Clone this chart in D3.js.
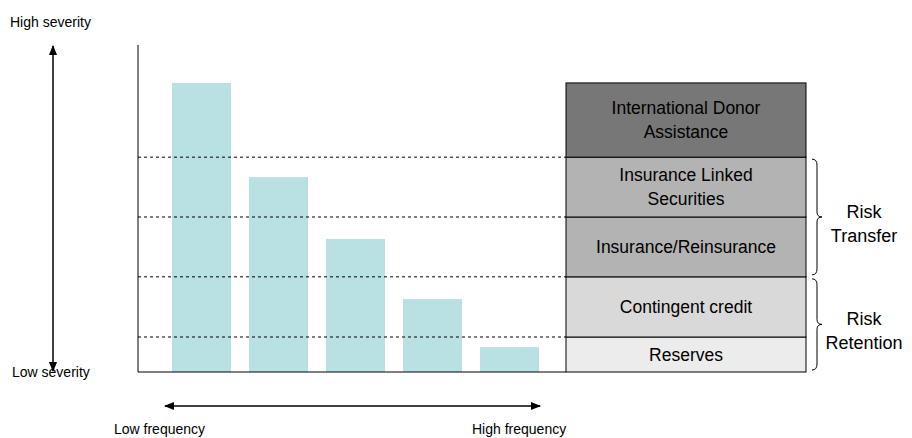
<!DOCTYPE html>
<html><head><meta charset="utf-8">
<script src="https://cdn.jsdelivr.net/npm/d3@7"></script>
<style>body{margin:0;background:#fff}svg{font-family:Arial,"Liberation Sans",sans-serif}</style>
</head><body><svg id="c" width="912" height="438"></svg>
<script>
const categories=["f1","f2","f3","f4","f5"];
const severity=[88.4,59.6,40.7,22.3,7.6];
const layerNames=[["Reserves"],["Contingent credit"],["Insurance/Reinsurance"],["Insurance Linked","Securities"],["International Donor","Assistance"]];
const layerBounds=[0,10.7,29.1,47.4,65.7,88.4];
const layerColors=["#ececec","#d9d9d9","#b3b3b3","#b3b3b3","#777777"];
const groups=[{name:["Risk","Transfer"],from:29.1,to:65.7},{name:["Risk","Retention"],from:0,to:29.1}];

const svg=d3.select("#c");
const y=d3.scaleLinear().domain([0,100]).range([372,45]);
const x=d3.scaleBand().domain(categories).range([163,548]).paddingInner(0.234).paddingOuter(0.117);

svg.append("defs").append("marker").attr("id","ah").attr("viewBox","0 0 10 10").attr("refX",9).attr("refY",5)
 .attr("markerWidth",7).attr("markerHeight",7).attr("orient","auto-start-reverse")
 .append("path").attr("d","M0,1L10,5L0,9z").attr("fill","#000");

svg.selectAll(".bar").data(severity).join("rect")
 .attr("x",(d,i)=>x(categories[i])).attr("width",x.bandwidth())
 .attr("y",d=>y(d)).attr("height",d=>y(0)-y(d)).attr("fill","#b9e0e3");

svg.selectAll(".dl").data(layerBounds.slice(1,5)).join("line")
 .attr("x1",138).attr("x2",566).attr("y1",d=>y(d)).attr("y2",d=>y(d))
 .attr("stroke","#000").attr("stroke-dasharray","3,3").attr("stroke-width",1);

svg.append("line").attr("x1",138).attr("x2",138).attr("y1",45).attr("y2",y(0)).attr("stroke","#000");
svg.append("line").attr("x1",138).attr("x2",566).attr("y1",y(0)).attr("y2",y(0)).attr("stroke","#000");

layerNames.forEach((nm,i)=>{
 const y0=y(layerBounds[i]),y1=y(layerBounds[i+1]);
 svg.append("rect").attr("x",566).attr("width",240).attr("y",y1).attr("height",y0-y1)
  .attr("fill",layerColors[i]).attr("stroke","#000").attr("stroke-width",1);
 const cy=(y0+y1)/2, lh=24;
 nm.forEach((t,j)=>svg.append("text").attr("x",686).attr("y",cy+(j-(nm.length-1)/2)*lh+6)
  .attr("text-anchor","middle").attr("font-size",17.5).attr("fill","#000").text(t));
});

groups.forEach(g=>{
 const a=y(g.to)+2,b=y(g.from)-2,m=(a+b)/2,x0=812,x1=820;
 svg.append("path").attr("fill","none").attr("stroke","#000").attr("stroke-width",1)
  .attr("d",`M${x0},${a} Q${x0+5},${a} ${x0+5},${a+6} L${x0+5},${m-5} Q${x0+5},${m} ${x1+2},${m} Q${x0+5},${m} ${x0+5},${m+5} L${x0+5},${b-6} Q${x0+5},${b} ${x0},${b}`);
 g.name.forEach((t,j)=>svg.append("text").attr("x",864).attr("y",m+7+(j-0.5)*24+6)
  .attr("text-anchor","middle").attr("font-size",18).text(t));
});

svg.append("line").attr("x1",53).attr("x2",53).attr("y1",46).attr("y2",371).attr("stroke","#000").attr("stroke-width",1.5)
 .attr("marker-start","url(#ah)").attr("marker-end","url(#ah)");
svg.append("text").attr("x",10).attr("y",27).attr("font-size",14).text("High severity");
svg.append("text").attr("x",12).attr("y",377).attr("font-size",14).text("Low severity");

svg.append("line").attr("x1",165).attr("x2",540).attr("y1",406).attr("y2",406).attr("stroke","#000").attr("stroke-width",1.5)
 .attr("marker-start","url(#ah)").attr("marker-end","url(#ah)");
svg.append("text").attr("x",114).attr("y",434).attr("font-size",14).text("Low frequency");
svg.append("text").attr("x",472).attr("y",434).attr("font-size",14).text("High frequency");
</script></body></html>
